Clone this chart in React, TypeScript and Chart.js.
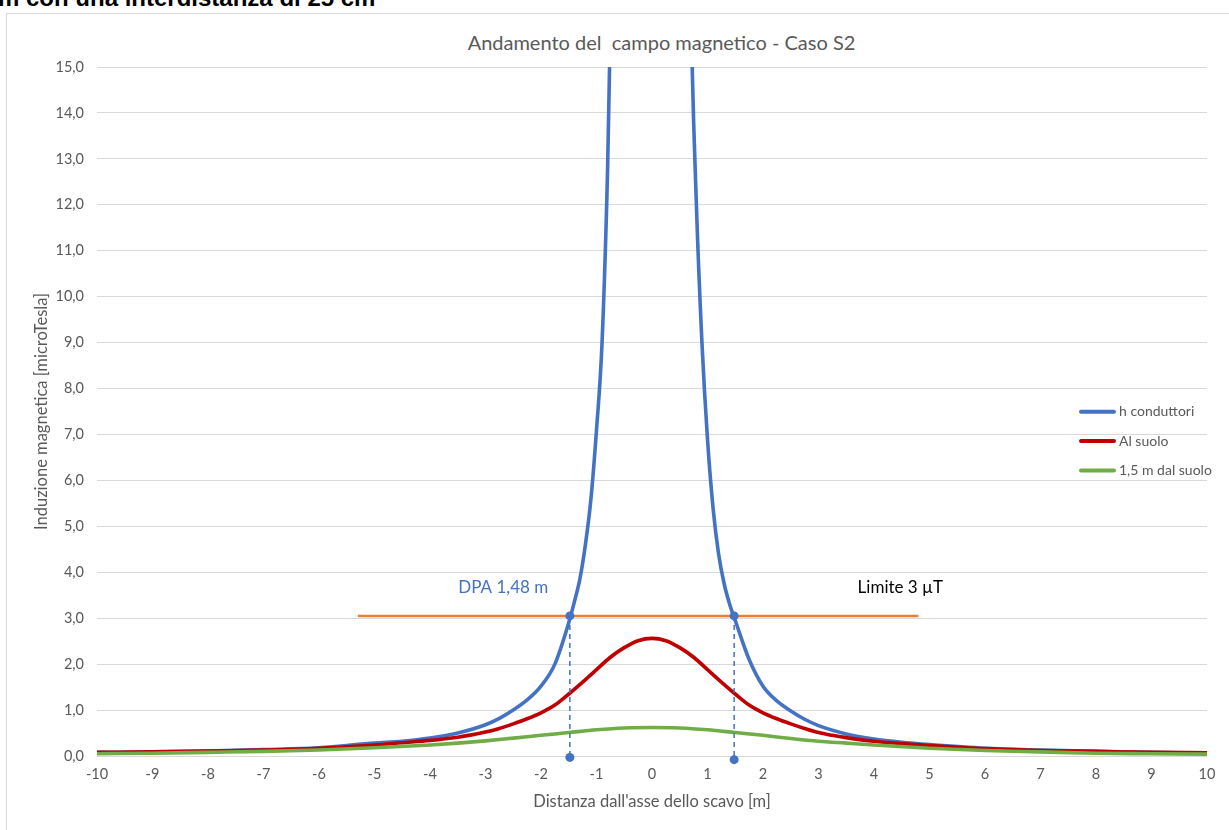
import React, { useEffect, useRef } from 'react';
import { Chart, registerables } from 'chart.js';

Chart.register(...registerables);

// ---- Data ----
const blueX = [-10, -9, -8, -7, -6, -5, -4.5, -4, -3.5, -3, -2.75, -2.5, -2.25, -2, -1.75, -1.5, -1.4, -1.3, -1.2, -1.1, -1, -0.9, -0.8, -0.7, -0.6, -0.5, 0, 0.5, 0.6, 0.7, 0.8, 0.9, 1, 1.1, 1.2, 1.3, 1.4, 1.5, 1.75, 2, 2.25, 2.5, 2.75, 3, 3.5, 4, 4.5, 5, 6, 7, 8, 9, 10];
const blueY = [0.08, 0.09, 0.11, 0.14, 0.18, 0.28, 0.32, 0.39, 0.5, 0.68, 0.82, 1.0, 1.22, 1.52, 2.0, 2.9, 3.35, 3.85, 4.6, 5.6, 7.1, 9.0, 12.8, 19, 27, 40, 90, 40, 27, 16.5, 12, 9, 6.9, 5.4, 4.4, 3.75, 3.3, 2.95, 2.1, 1.52, 1.2, 0.98, 0.8, 0.66, 0.48, 0.37, 0.3, 0.25, 0.17, 0.13, 0.1, 0.08, 0.06];

const redX = [-10, -9, -8, -7, -6, -5, -4.5, -4, -3.5, -3.25, -3, -2.75, -2.5, -2.25, -2, -1.75, -1.5, -1.25, -1, -0.75, -0.5, -0.25, 0, 0.25, 0.5, 0.75, 1, 1.25, 1.5, 1.75, 2, 2.25, 2.5, 2.75, 3, 3.25, 3.5, 4, 4.5, 5, 6, 7, 8, 9, 10];
const redY = [0.08, 0.09, 0.11, 0.13, 0.17, 0.24, 0.29, 0.34, 0.41, 0.46, 0.52, 0.6, 0.7, 0.81, 0.94, 1.11, 1.35, 1.61, 1.88, 2.15, 2.36, 2.51, 2.56, 2.51, 2.36, 2.15, 1.88, 1.61, 1.35, 1.11, 0.94, 0.81, 0.7, 0.6, 0.51, 0.45, 0.4, 0.32, 0.27, 0.23, 0.16, 0.12, 0.1, 0.08, 0.07];

const greenX = [-10, -9, -8, -7, -6, -5, -4, -3.5, -3, -2.5, -2, -1.5, -1, -0.5, 0, 0.5, 1, 1.5, 2, 2.5, 3, 3.5, 4, 5, 6, 7, 8, 9, 10];
const greenY = [0.05, 0.06, 0.08, 0.1, 0.13, 0.18, 0.24, 0.28, 0.33, 0.39, 0.45, 0.51, 0.57, 0.61, 0.62, 0.61, 0.57, 0.51, 0.45, 0.38, 0.32, 0.28, 0.24, 0.17, 0.12, 0.09, 0.06, 0.05, 0.04];

const seriesNames = ['h conduttori', 'Al suolo', '1,5 m dal suolo'];
const seriesColors = ['#4472c4', '#c00000', '#70ad47'];

const limitX = [-5.3, 4.8];
const limitValue = 3.05;
const dpaX = [-1.48, 1.48];
const dpaBottom = [-0.03, -0.08];

const noteTexts = ['DPA 1,48 m', 'Limite 3 µT'];
const noteX = [-2.68, 4.475];
const noteY = [3.66, 3.66];
const noteColors = ['#4472c4', '#000000'];

const xTicksMin = -10;
const xTicksMax = 10;
const yTicksMin = 0;
const yTicksMax = 15;

const titleText = 'Andamento del  campo magnetico - Caso S2';
const xTitle = "Distanza dall'asse dello scavo [m]";
const yTitle = 'Induzione magnetica [microTesla]';
const headerText = 'm con una interdistanza di 25 cm';

const FONT = "Lato, 'Open Sans', sans-serif";
const GREY = '#595959';

function toPoints(xs: number[], ys: number[]) {
  return xs.map((x, i) => ({ x, y: ys[i] }));
}

const overlayPlugin = {
  id: 'overlayTexts',
  afterDraw(chart: any) {
    const { ctx, chartArea, scales } = chart;
    ctx.save();
    ctx.font = `17px ${FONT}`;
    ctx.textAlign = 'center';
    ctx.textBaseline = 'middle';
    noteTexts.forEach((t, i) => {
      ctx.fillStyle = noteColors[i];
      ctx.fillText(t, scales.x.getPixelForValue(noteX[i]), scales.y.getPixelForValue(noteY[i]));
    });
    const x0 = chartArea.right - 126;
    const yMid = chartArea.top + (chartArea.bottom - chartArea.top) / 2;
    ctx.font = `14px ${FONT}`;
    ctx.textAlign = 'left';
    seriesNames.forEach((name, i) => {
      const y = yMid + (i - 1) * 29.3 + 29.6;
      ctx.strokeStyle = seriesColors[i];
      ctx.lineWidth = 4;
      ctx.lineCap = 'round';
      ctx.beginPath();
      ctx.moveTo(x0, y);
      ctx.lineTo(x0 + 33, y);
      ctx.stroke();
      ctx.fillStyle = GREY;
      ctx.fillText(name, x0 + 38, y);
    });
    ctx.restore();
  },
};

export default function App() {
  const ref = useRef<HTMLCanvasElement>(null);

  useEffect(() => {
    const canvas = ref.current;
    if (!canvas) return;
    const curve = (i: number, xs: number[], ys: number[], order: number) => ({
      label: seriesNames[i],
      data: toPoints(xs, ys),
      borderColor: seriesColors[i],
      backgroundColor: seriesColors[i],
      borderWidth: 3.6,
      pointRadius: 0,
      fill: false,
      cubicInterpolationMode: 'monotone' as const,
      order,
    });
    const dpa = (k: number) => ({
      label: 'dpa' + k,
      data: [
        { x: dpaX[k], y: limitValue },
        { x: dpaX[k], y: dpaBottom[k] },
      ],
      borderColor: '#4472c4',
      backgroundColor: '#4472c4',
      borderWidth: 1.5,
      borderDash: [5, 4],
      pointRadius: 4.5,
      pointBorderWidth: 0,
      pointBackgroundColor: '#4472c4',
      fill: false,
      clip: false as any,
      order: 0,
    });
    const chart = new Chart(canvas, {
      type: 'line',
      data: {
        datasets: [
          curve(0, blueX, blueY, 4),
          curve(1, redX, redY, 3),
          curve(2, greenX, greenY, 2),
          {
            label: 'limite',
            data: limitX.map((x) => ({ x, y: limitValue })),
            borderColor: '#ed7d31',
            borderWidth: 2.5,
            pointRadius: 0,
            fill: false,
            clip: false as any,
            order: 1,
          },
          dpa(0),
          dpa(1),
        ],
      },
      options: {
        animation: false,
        responsive: false,
        devicePixelRatio: 1,
        layout: { padding: { left: 0, right: 22, top: 67, bottom: 0 } },
        plugins: {
          legend: { display: false },
          tooltip: { enabled: false },
          title: { display: false },
        },
        scales: {
          x: {
            type: 'linear',
            min: xTicksMin,
            max: xTicksMax,
            ticks: { stepSize: 1, padding: 10, color: GREY, font: { family: FONT, size: 14.5 } },
            grid: { display: false, drawTicks: false },
            border: { display: false },
            title: {
              display: true,
              text: xTitle,
              color: GREY,
              font: { family: FONT, size: 16.5 },
              padding: { top: 0, bottom: 18 },
            },
            afterFit: (s: any) => {
              s.height = 74;
            },
          },
          y: {
            min: yTicksMin,
            max: yTicksMax,
            ticks: {
              stepSize: 1,
              padding: 13,
              color: GREY,
              font: { family: FONT, size: 14.5 },
              callback: (v: any) => Number(v).toFixed(1).replace('.', ','),
            },
            grid: { color: '#d9d9d9', lineWidth: 1, drawTicks: false },
            border: { display: false },
            title: {
              display: true,
              text: yTitle,
              color: GREY,
              font: { family: FONT, size: 16.5 },
              padding: { top: 32, bottom: 0 },
            },
            afterFit: (s: any) => {
              s.width = 97;
            },
          },
        },
      },
      plugins: [overlayPlugin],
    });
    return () => chart.destroy();
  }, []);

  return (
    <div style={{ position: 'absolute', left: 0, top: 0, width: 1229, height: 830, overflow: 'hidden', background: '#fff' }}>
      <div
        style={{
          position: 'absolute',
          left: -2,
          top: -14,
          fontFamily: "'Liberation Sans', Arial, sans-serif",
          fontWeight: 'bold',
          fontSize: 24,
          lineHeight: '24px',
          whiteSpace: 'nowrap',
          color: '#000',
        }}
      >
        {headerText}
      </div>
      <div style={{ position: 'absolute', left: 6, top: 13, width: 1240, height: 900, border: '1px solid #d9d9d9' }} />
      <div
        style={{
          position: 'absolute',
          left: 0,
          width: 1323,
          top: 30,
          textAlign: 'center',
          fontFamily: FONT,
          fontSize: 20,
          lineHeight: '24px',
          color: GREY,
          whiteSpace: 'pre',
        }}
      >
        {titleText}
      </div>
      <canvas ref={ref} width={1229} height={830} style={{ position: 'absolute', left: 0, top: 0, width: 1229, height: 830 }} />
    </div>
  );
}
